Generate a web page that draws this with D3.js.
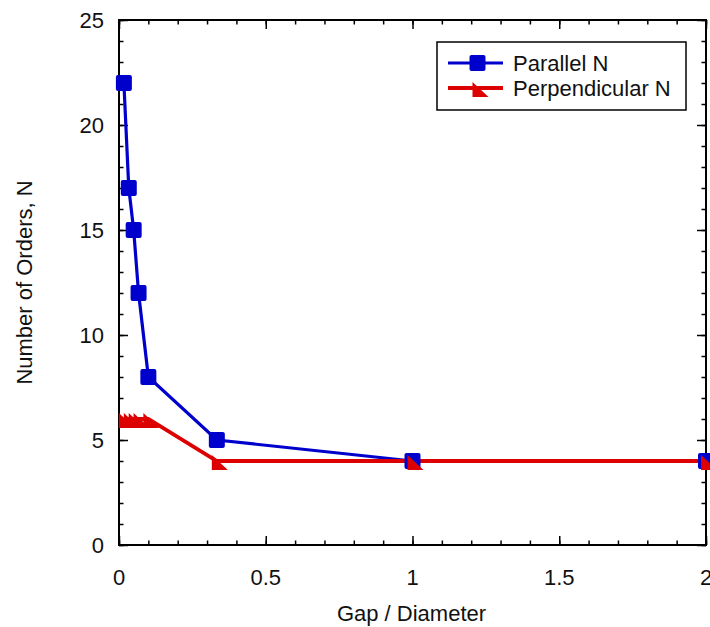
<!DOCTYPE html>
<html>
<head>
<meta charset="utf-8">
<script src="https://cdn.jsdelivr.net/npm/d3@7"></script>
<style>
  html, body { margin: 0; padding: 0; background: #fff; }
  svg { display: block; font-family: "Liberation Sans", Arial, sans-serif; }
</style>
</head>
<body>
<svg id="chart" width="710" height="627"></svg>
<script>
// Gap / Diameter ratios sampled
const gapRatio = [1/60, 1/30, 1/20, 1/15, 1/10, 1/3, 1, 2];
// Number of orders for each polarisation
const parallelN = [22, 17, 15, 12, 8, 5, 4, 4];
const perpendicularN = [6, 6, 6, 6, 6, 4, 4, 4];

const xTicks = [0, 0.5, 1, 1.5, 2];
const xTickLabels = ["0", "0.5", "1", "1.5", "2"];
const yTicks = [0, 5, 10, 15, 20, 25];
const yTickLabels = ["0", "5", "10", "15", "20", "25"];

const seriesNames = ["Parallel N", "Perpendicular N"];
const blue = "#0000cc";
const red = "#dd0000";

const svg = d3.select("#chart");
const margin = { left: 119, right: 4, top: 20, bottom: 82 };
const W = 710, H = 627;
const iw = W - margin.left - margin.right;
const ih = H - margin.top - margin.bottom;

const x = d3.scaleLinear().domain([0, 2]).range([margin.left, margin.left + iw]);
const y = d3.scaleLinear().domain([0, 25]).range([margin.top + ih, margin.top]);

const fontSize = 22;

// minor/major ticks, all drawn inward on the four sides
const xMinor = d3.range(0, 2.0001, 0.1);
const yMinor = d3.range(0, 25.0001, 1);
const majorLen = 9, minorLen = 4.5;

function addAxis(axisGen, tx, ty) {
  const g = svg.append("g").attr("transform", `translate(${tx},${ty})`).call(axisGen);
  g.select(".domain").remove();
  g.selectAll("line").attr("stroke", "#000").attr("stroke-width", 1.5);
  return g;
}

// bottom
addAxis(d3.axisTop(x).tickValues(xMinor).tickSize(minorLen).tickFormat(""), 0, y(0));
addAxis(d3.axisTop(x).tickValues(xTicks).tickSize(majorLen).tickFormat(""), 0, y(0));
// top
addAxis(d3.axisBottom(x).tickValues(xMinor).tickSize(minorLen).tickFormat(""), 0, y(25));
addAxis(d3.axisBottom(x).tickValues(xTicks).tickSize(majorLen).tickFormat(""), 0, y(25));
// left
addAxis(d3.axisRight(y).tickValues(yMinor).tickSize(minorLen).tickFormat(""), x(0), 0);
addAxis(d3.axisRight(y).tickValues(yTicks).tickSize(majorLen).tickFormat(""), x(0), 0);
// right
addAxis(d3.axisLeft(y).tickValues(yMinor).tickSize(minorLen).tickFormat(""), x(2), 0);
addAxis(d3.axisLeft(y).tickValues(yTicks).tickSize(majorLen).tickFormat(""), x(2), 0);

// frame
svg.append("rect")
  .attr("x", x(0)).attr("y", y(25))
  .attr("width", x(2) - x(0)).attr("height", y(0) - y(25))
  .attr("fill", "none").attr("stroke", "#000").attr("stroke-width", 2);

// tick labels
svg.append("g").selectAll("text").data(xTicks).join("text")
  .attr("x", d => x(d)).attr("y", y(0) + 40)
  .attr("text-anchor", "middle").attr("font-size", fontSize).attr("fill", "#111")
  .text((d, i) => xTickLabels[i]);

svg.append("g").selectAll("text").data(yTicks).join("text")
  .attr("x", x(0) - 15).attr("y", d => y(d)).attr("dy", "0.36em")
  .attr("text-anchor", "end").attr("font-size", fontSize).attr("fill", "#111")
  .text((d, i) => yTickLabels[i]);

// axis titles
svg.append("text")
  .attr("x", (x(0) + x(2)) / 2 - 1).attr("y", 621)
  .attr("text-anchor", "middle").attr("font-size", fontSize).attr("fill", "#111")
  .text("Gap / Diameter");

svg.append("text")
  .attr("transform", `translate(32,${(y(0) + y(25)) / 2}) rotate(-90)`)
  .attr("text-anchor", "middle").attr("font-size", fontSize).attr("fill", "#111")
  .text("Number of Orders, N");

// series
const line = d3.line().x(d => x(d[0])).y(d => y(d[1]));
const parData = gapRatio.map((g, i) => [g, parallelN[i]]);
const perData = gapRatio.map((g, i) => [g, perpendicularN[i]]);

svg.append("path").datum(parData).attr("d", line)
  .attr("fill", "none").attr("stroke", blue).attr("stroke-width", 3.2);
svg.append("path").datum(perData).attr("d", line)
  .attr("fill", "none").attr("stroke", red).attr("stroke-width", 3.8);

const sq = 16;
const trianglePath = "M-5,-6 L-5,9 L11,9 Z";

function squareMarker(g, cx, cy) {
  g.append("rect")
    .attr("x", cx - sq / 2).attr("y", cy - sq / 2)
    .attr("width", sq).attr("height", sq).attr("rx", 2)
    .attr("fill", blue);
}
function triangleMarker(g, cx, cy) {
  g.append("path")
    .attr("transform", `translate(${cx},${cy})`)
    .attr("d", trianglePath).attr("fill", red);
}

const markers = svg.append("g");
parData.forEach(d => squareMarker(markers, x(d[0]), y(d[1])));
perData.forEach(d => triangleMarker(markers, x(d[0]), y(d[1])));

// legend
const lg = svg.append("g");
lg.append("rect")
  .attr("x", 437).attr("y", 42).attr("width", 249).attr("height", 68)
  .attr("fill", "#fff").attr("stroke", "#000").attr("stroke-width", 1.5);
const rows = [63, 88];
lg.append("line").attr("x1", 448).attr("x2", 503).attr("y1", rows[0]).attr("y2", rows[0])
  .attr("stroke", blue).attr("stroke-width", 3.2);
squareMarker(lg, 477.5, rows[0]);
lg.append("line").attr("x1", 448).attr("x2", 503).attr("y1", rows[1]).attr("y2", rows[1])
  .attr("stroke", red).attr("stroke-width", 3.8);
triangleMarker(lg, 477.5, rows[1]);
seriesNames.forEach((name, i) => {
  lg.append("text").attr("x", 513).attr("y", rows[i]).attr("dy", "0.36em")
    .attr("font-size", fontSize).attr("fill", "#111").text(name);
});
</script>
</body>
</html>
